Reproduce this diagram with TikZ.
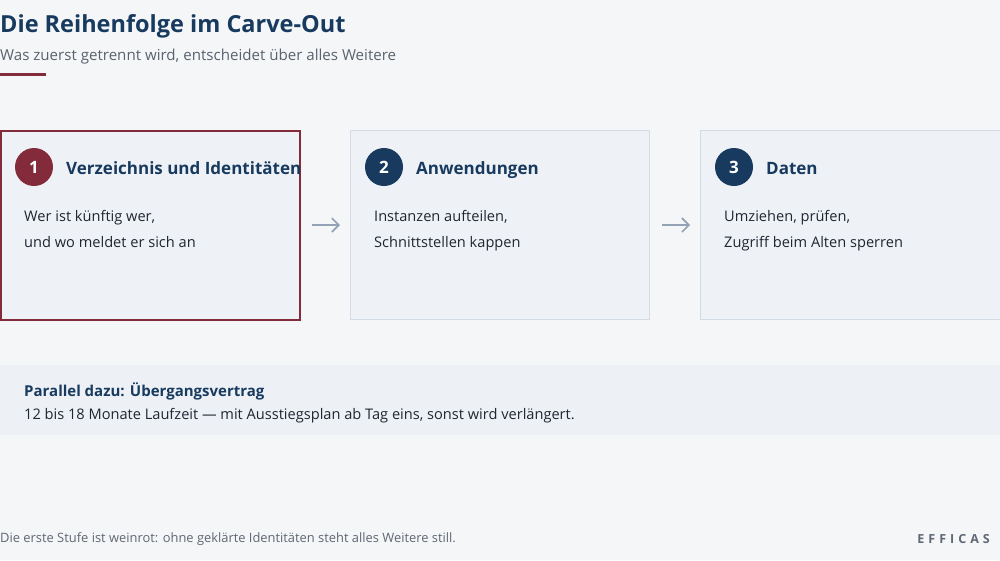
\documentclass[tikz,border=0pt]{standalone}
\usepackage{fontspec}
\setmainfont{Open Sans}
\usetikzlibrary{arrows.meta}
\definecolor{bg}{HTML}{F5F6F8}
\definecolor{navy}{HTML}{173A5E}
\definecolor{wine}{HTML}{842B3B}
\definecolor{boxfill}{HTML}{EEF2F7}
\definecolor{boxline}{HTML}{D3DBE4}
\definecolor{subgray}{HTML}{59626F}
\definecolor{bodytext}{HTML}{1F2630}
\definecolor{arrowgray}{HTML}{93A3B5}
\definecolor{bandfill}{HTML}{EDF1F6}
\definecolor{footgray}{HTML}{5F6874}
\tikzset{
  stepbox/.style={draw=boxline, line width=1pt, fill=boxfill},
  activebox/.style={draw=wine, line width=1.5pt, fill=boxfill},
  numdot/.style={circle, fill=navy, minimum size=38pt, inner sep=0pt, text=white, font=\fontsize{17}{20}\selectfont\bfseries},
  heading/.style={anchor=base west, inner sep=0pt, text=navy, font=\fontsize{17}{22}\selectfont\bfseries},
  bodyline/.style={anchor=base west, inner sep=0pt, text=bodytext, font=\fontsize{14.6}{18}\selectfont},
  flowarrow/.style={draw=arrowgray, line width=1.6pt, -{Straight Barb[length=7pt,width=14pt]}},
}
\begin{document}
\begin{tikzpicture}[x=1pt,y=-1pt]
\useasboundingbox (0,0) rectangle (1000,560);
\fill[bg] (0,0) rectangle (1000,560);
% title
\node[anchor=base west, inner sep=0pt, text=navy, font=\fontsize{23.5}{28}\selectfont\bfseries] (title) at (0,32) {Die Reihenfolge im Carve-Out};
\node[anchor=base west, inner sep=0pt, text=subgray, font=\fontsize{15.1}{18}\selectfont] (subtitle) at (0,60) {Was zuerst getrennt wird, entscheidet über alles Weitere};
\fill[wine] (0,73) rectangle (46,75.5);
% boxes
\draw[activebox] (0.75,130.75) rectangle (299.75,319.75);
\node[inner sep=0pt, minimum width=300pt, minimum height=190pt] (b1) at (150,225) {};
\draw[stepbox] (350.5,130.5) rectangle (649.5,319.5);
\node[inner sep=0pt, minimum width=300pt, minimum height=190pt] (b2) at (500,225) {};
\draw[stepbox] (700.5,130.5) rectangle (1000.5,319.5);
\node[inner sep=0pt, minimum width=300pt, minimum height=190pt] (b3) at (850,225) {};
% box 1
\node[numdot, fill=wine] (n1) at (34,167) {1};
\node[heading] (h1) at (66,174) {Verzeichnis und Identitäten};
\node[bodyline] (t1a) at (24,221) {Wer ist künftig wer,};
\node[bodyline] (t1b) at (24,247) {und wo meldet er sich an};
% box 2
\node[numdot] (n2) at (384,167) {2};
\node[heading] (h2) at (416,174) {Anwendungen};
\node[bodyline] (t2a) at (374,221) {Instanzen aufteilen,};
\node[bodyline] (t2b) at (374,247) {Schnittstellen kappen};
% box 3
\node[numdot] (n3) at (734,167) {3};
\node[heading] (h3) at (766,174) {Daten};
\node[bodyline] (t3a) at (724,221) {Umziehen, prüfen,};
\node[bodyline] (t3b) at (724,247) {Zugriff beim Alten sperren};
% arrows
\coordinate (a1s) at (312,225);
\coordinate (a1e) at (340,225);
\coordinate (a2s) at (662,225);
\coordinate (a2e) at (690,225);
\draw[flowarrow] (a1s) -- (a1e);
\draw[flowarrow] (a2s) -- (a2e);
% band
\fill[bandfill] (0,365) rectangle (1000,435);
\node[anchor=base west, inner sep=0pt, text=navy, font=\fontsize{15}{18}\selectfont\bfseries] (pt) at (24,396) {Parallel dazu: Übergangsvertrag};
\node[anchor=base west, inner sep=0pt, text=bodytext, font=\fontsize{14.6}{18}\selectfont] (pb) at (24,419) {12 bis 18 Monate Laufzeit — mit Ausstiegsplan ab Tag eins, sonst wird verlängert.};
% footer
\node[anchor=base west, inner sep=0pt, text=footgray, font=\fontsize{12.9}{14}\selectfont] (foot) at (0,542) {Die erste Stufe ist weinrot: ohne geklärte Identitäten steht alles Weitere still.};
\node[anchor=base east, inner sep=0pt, text=footgray, font=\fontsize{12.5}{14}\selectfont\bfseries\addfontfeatures{LetterSpace=32}] (brand) at (990,543) {EFFICAS};
\end{tikzpicture}
\end{document}
